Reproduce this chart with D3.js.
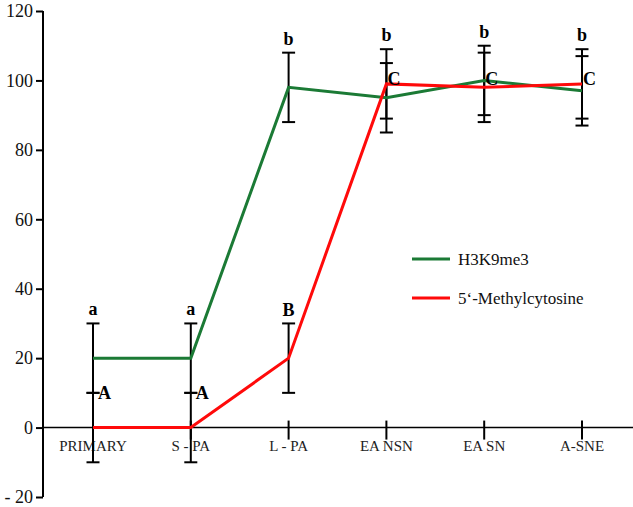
<!DOCTYPE html>
<html>
<head>
<meta charset="utf-8">
<script src="https://cdn.jsdelivr.net/npm/d3@7"></script>
<style>
  body { margin: 0; background: #fff; }
</style>
</head>
<body>
<script>
'use strict';
// stages along the x axis
let stages = ["PRIMARY", "S - PA", "L - PA", "EA NSN", "EA SN", "A-SNE"];
// series means (%), error is +/- 10 everywhere
let h3k9 = [20, 20, 98, 95, 100, 97];
let methyl = [0, 0, 20, 99, 98, 99];
let h3k9Err = [10, 10, 10, 10, 10, 10];
let methylErr = [10, 10, 10, 10, 10, 10];
// significance letters
let h3k9Letters = ["a", "a", "b", "b", "b", "b"];
let methylLetters = ["A", "A", "B", "C", "C", "C"];
let yTicks = [-20, 0, 20, 40, 60, 80, 100, 120];

const SERIF = '"Liberation Serif"';

(function() {
  let svg = d3.select('body').append('svg')
    .attr('width', 633)
    .attr('height', 507)
    .style('font-family', SERIF);

  let yScale = d3.scaleLinear().domain([-20, 120]).range([497, 11]);
  let xScale = d3.scalePoint().domain(stages).range([93, 582]);

  // y axis
  let yAxis = d3.axisLeft(yScale).tickValues(yTicks).tickSize(7).tickPadding(3)
    .tickFormat(d => d < 0 ? "- " + Math.abs(d) : d);
  let gy = svg.append('g').attr('transform', 'translate(43,0)').call(yAxis)
    .attr('font-family', null);
  gy.select('.domain').attr('stroke', '#000').attr('stroke-width', 2)
    .attr('d', 'M0,' + yScale(120) + 'V' + yScale(-20));
  gy.selectAll('.tick line').attr('stroke-width', 2);
  gy.selectAll('.tick text')
    .style('font-family', SERIF)
    .style('font-size', '18px').attr('fill', '#111');

  // x axis line at 0
  svg.append('line')
    .attr('x1', 43).attr('x2', 633)
    .attr('y1', yScale(0)).attr('y2', yScale(0))
    .attr('stroke', '#000').attr('stroke-width', 1.5);

  // x ticks + labels
  stages.forEach(s => {
    svg.append('line')
      .attr('x1', xScale(s)).attr('x2', xScale(s))
      .attr('y1', yScale(0) - 7).attr('y2', yScale(0) + 12)
      .attr('stroke', '#000').attr('stroke-width', 2);
    svg.append('text')
      .attr('x', xScale(s)).attr('y', yScale(0) + 23)
      .attr('text-anchor', 'middle')
      .style('font-family', SERIF)
      .style('font-size', '15px')
      .attr('fill', '#222')
      .text(s);
  });

  // error bars for both series
  function errorBars(vals, errs) {
    vals.forEach((v, i) => {
      let x = xScale(stages[i]);
      svg.append('line')
        .attr('x1', x).attr('x2', x)
        .attr('y1', yScale(v + errs[i])).attr('y2', yScale(v - errs[i]))
        .attr('stroke', '#000').attr('stroke-width', 2);
      [v + errs[i], v - errs[i]].forEach(c => {
        svg.append('line')
          .attr('x1', x - 6.5).attr('x2', x + 6.5)
          .attr('y1', yScale(c)).attr('y2', yScale(c))
          .attr('stroke', '#000').attr('stroke-width', 2);
      });
    });
  }
  errorBars(h3k9, h3k9Err);
  errorBars(methyl, methylErr);

  // lines
  let line = d3.line()
    .x((d, i) => xScale(stages[i]))
    .y(d => yScale(d));

  svg.append('path').datum(h3k9)
    .attr('d', line)
    .attr('fill', 'none')
    .attr('stroke', '#1b7a35')
    .attr('stroke-width', 3);

  svg.append('path').datum(methyl)
    .attr('d', line)
    .attr('fill', 'none')
    .attr('stroke', '#ff0a0a')
    .attr('stroke-width', 3);

  // letters
  let topVals = h3k9.map((v, i) => Math.max(v + h3k9Err[i], methyl[i] + methylErr[i]));
  h3k9Letters.forEach((l, i) => {
    svg.append('text')
      .attr('x', xScale(stages[i])).attr('y', yScale(topVals[i]) - 8)
      .attr('text-anchor', 'middle')
      .style('font-family', SERIF)
      .style('font-size', '18px').style('font-weight', 'bold')
      .text(l);
  });
  methylLetters.forEach((l, i) => {
    let x = xScale(stages[i]);
    let t = svg.append('text')
      .style('font-family', SERIF)
      .style('font-size', '18px').style('font-weight', 'bold');
    if (l === "B") {
      // above its own cap
      t.attr('x', x).attr('y', yScale(methyl[i] + methylErr[i]) - 7)
        .attr('text-anchor', 'middle');
    } else if (l === "A") {
      t.attr('x', x + 5).attr('y', yScale(methyl[i] + methylErr[i]) + 6);
    } else {
      t.attr('x', x + 1).attr('y', yScale(100) + 5);
    }
    t.text(l);
  });

  // legend
  let legend = [
    { name: "H3K9me3", color: '#1b7a35' },
    { name: "5‘-Methylcytosine", color: '#ff0a0a' }
  ];
  legend.forEach((d, i) => {
    let y = 259 + i * 39;
    svg.append('line')
      .attr('x1', 412).attr('x2', 450)
      .attr('y1', y).attr('y2', y)
      .attr('stroke', d.color).attr('stroke-width', 3);
    svg.append('text')
      .attr('x', 458).attr('y', y + 6)
      .style('font-family', SERIF)
      .style('font-size', '17px')
      .attr('fill', '#111')
      .text(d.name);
  });
})();
</script>
</body>
</html>
